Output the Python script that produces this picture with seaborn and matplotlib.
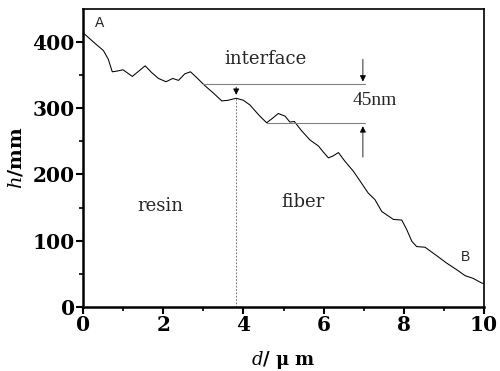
import numpy as np
import pandas as pd
import matplotlib
matplotlib.use("Agg")
import matplotlib.pyplot as plt
import seaborn as sns

d_um = [0.0, 0.02, 0.26, 0.51, 0.63, 0.73, 0.84, 1.0, 1.23, 1.35, 1.55, 1.71, 1.88, 2.07,
        2.24, 2.38, 2.54, 2.68, 2.84, 3.04, 3.25, 3.46, 3.62, 3.82, 4.0, 4.16, 4.41,
        4.58, 4.71, 4.87, 5.04, 5.16, 5.27, 5.45, 5.66, 5.87, 5.99, 6.12, 6.24, 6.37,
        6.53, 6.74, 6.91, 7.11, 7.28, 7.45, 7.74, 7.95, 8.07, 8.2, 8.32, 8.53, 8.78,
        9.07, 9.32, 9.53, 9.73, 9.94, 10.0]
h_nm = [415, 413, 400, 387, 374, 355, 356, 358, 348, 354, 364, 354, 345, 340,
        345, 342, 352, 355, 346, 334, 323, 311, 312, 315, 312, 305, 288,
        278, 284, 292, 288, 279, 280, 266, 252, 243, 234, 225, 228, 233,
        220, 205, 190, 172, 162, 144, 132, 131, 117, 99, 91, 90, 79,
        66, 56, 47, 43, 36, 35]

x_ticks = [0, 2, 4, 6, 8, 10]
y_ticks = [0, 100, 200, 300, 400]

iface_x = 3.82
top_level = 336
low_level = 277
arrow_x = 6.98

sns.set_theme(style="ticks")
plt.rcParams['font.family'] = ['DejaVu Serif']
plt.rcParams['mathtext.fontset'] = 'dejavuserif'

df = pd.DataFrame({"d": d_um, "h": h_nm})

fig = plt.figure(figsize=(5.0, 3.71), dpi=100)
ax = fig.add_axes([0.166, 0.173, 0.802, 0.803])
sns.lineplot(data=df, x="d", y="h", ax=ax, color="black", linewidth=0.75)

ax.set_xlim(0, 10)
ax.set_ylim(0, 450)
ax.set_xticks(x_ticks)
ax.set_yticks(y_ticks)
ax.set_xticks([1, 3, 5, 7, 9], minor=True)
ax.set_yticks([50, 150, 250, 350], minor=True)
ax.tick_params(axis='both', which='major', direction='out', length=5, width=1.5,
               labelsize=14.5, pad=1, color='black', labelcolor='black')
ax.tick_params(axis='both', which='minor', direction='out', length=3, width=1.2, color='black')
for lab in ax.get_xticklabels() + ax.get_yticklabels():
    lab.set_fontweight('bold')
for side in ['left', 'bottom']:
    ax.spines[side].set_linewidth(1.8)
    ax.spines[side].set_color('black')
for side in ['top', 'right']:
    ax.spines[side].set_visible(True)
    ax.spines[side].set_linewidth(1.2)
    ax.spines[side].set_color('black')

ax.set_xlabel(r"$\mathit{d}$/ μ m", fontsize=13, fontweight='bold', labelpad=10, color='black')
ax.set_ylabel(r"$\mathit{h}$/mm", fontsize=14, fontweight='bold', labelpad=5, color='black')

# annotations
ax.plot([iface_x, iface_x], [0, 315], color="#555555", linestyle=(0, (2, 2)), linewidth=0.6)
ax.plot([3.0, arrow_x + 0.05], [top_level, top_level], color="gray", linewidth=0.8)
ax.plot([4.58, arrow_x + 0.05], [low_level, low_level], color="gray", linewidth=0.8)
ax.annotate("", xy=(iface_x, 316), xytext=(iface_x, top_level),
            arrowprops=dict(arrowstyle="-|>", color="black", lw=0.6, mutation_scale=9))
ax.annotate("", xy=(arrow_x, top_level), xytext=(arrow_x, 378),
            arrowprops=dict(arrowstyle="-|>", color="black", lw=0.6, mutation_scale=9))
ax.annotate("", xy=(arrow_x, low_level), xytext=(arrow_x, 222),
            arrowprops=dict(arrowstyle="-|>", color="black", lw=0.6, mutation_scale=9))

ax.text(7.28, 312, "45nm", fontsize=14, ha="center", va="center", family="Liberation Serif")
ax.text(4.55, 375, "interface", fontsize=13, ha="center", va="center")
ax.text(1.92, 152, "resin", fontsize=13, ha="center", va="center")
ax.text(5.49, 158, "fiber", fontsize=13, ha="center", va="center")
ax.text(0.42, 428, "A", fontsize=10, ha="center", va="center", family="Liberation Sans")
ax.text(9.55, 75, "B", fontsize=10, ha="center", va="center", family="Liberation Sans")

fig.savefig("out.png", dpi=100)
